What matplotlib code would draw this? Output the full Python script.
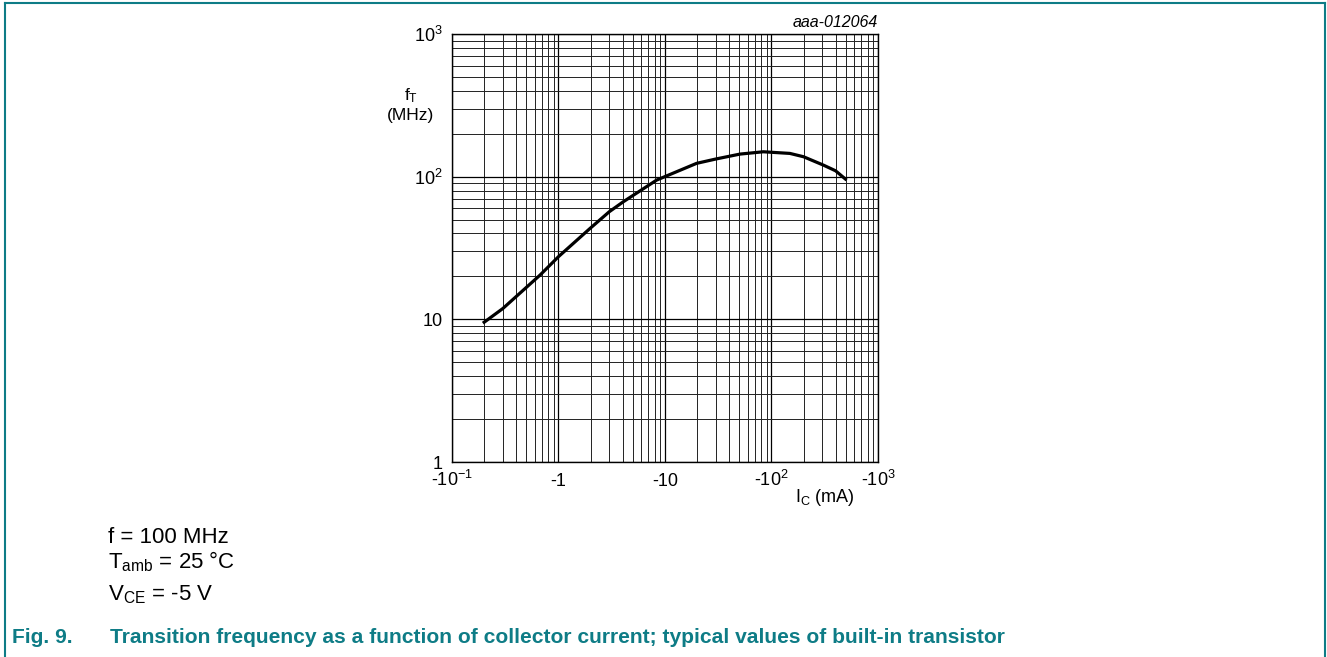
import matplotlib.pyplot as plt
import numpy as np

plt.rcParams['font.family'] = ['Liberation Sans', 'DejaVu Sans']
plt.rcParams['mathtext.fontset'] = 'custom'
plt.rcParams['mathtext.rm'] = 'Liberation Sans'
plt.rcParams['mathtext.it'] = 'Liberation Sans'

# collector current (mA, negative) and transition frequency (MHz)
ic = [-0.195, -0.3, -0.67, -1.0, -1.98, -3.0, -4.06, -8.36, -19.8, -30,
      -50.6, -83.8, -149, -200, -307, -400, -508]
ft = [9.4, 11.9, 20.4, 27.5, 43.4, 56.8, 66.7, 94.7, 124, 133,
      144, 149.5, 145.6, 138, 120.6, 110, 94.7]

x_ticks = [0.1, 1, 10, 100, 1000]
x_labels = ['-10$^{-1}$', '-1', '-10', '-10$^{2}$', '-10$^{3}$']
y_ticks = [1, 10, 100, 1000]
y_labels = ['1', '10', '10$^{2}$', '10$^{3}$']

teal = '#0e7c86'

fig = plt.figure(figsize=(13.27, 6.57), dpi=100)
ax = fig.add_axes([0.3406, 0.2968, 0.3210, 0.6514])

ax.set_xscale('log')
ax.set_yscale('log')
ax.set_xlim(0.1, 1000)
ax.set_ylim(1, 1000)

ax.grid(which='major', color='black', linewidth=0.9)
ax.grid(which='minor', color='#222222', linewidth=0.7)
ax.set_axisbelow(True)

ax.plot(-np.array(ic), ft, color='black', linewidth=2.3,
        solid_capstyle='butt', solid_joinstyle='round')

ax.set_xticks(x_ticks)
ax.set_xticklabels(x_labels, fontsize=13)
ax.set_yticks(y_ticks)
ax.set_yticklabels(y_labels, fontsize=13)
ax.tick_params(which='both', length=0)
ax.tick_params(axis='x', pad=17)
ax.tick_params(axis='y', pad=7)
plt.setp(ax.get_xticklabels(), va='baseline')
ax.minorticks_on()
ax.tick_params(which='minor', length=0, labelbottom=False, labelleft=False)
for s in ax.spines.values():
    s.set_linewidth(1.0)

fig.text(0.3095, 0.855, '$\\mathregular{f_T}$', fontsize=12.5, ha='center', va='center')
fig.text(0.3095, 0.824, '(MHz)', fontsize=12.5, ha='center', va='center')
fig.text(0.6616, 0.965, 'aaa-012064', fontsize=11.5, style='italic', ha='right', va='center')
fig.text(0.6217, 0.2435, '$\\mathregular{I_C}$ (mA)', fontsize=13, ha='center', va='center')

fig.text(0.0814, 0.1735, 'f = 100 MHz', fontsize=16, va='baseline')
fig.text(0.0814, 0.1355, '$\\mathregular{T_{amb}}$ = 25 °C', fontsize=16, va='baseline')
fig.text(0.0814, 0.0868, '$\\mathregular{V_{CE}}$ = -5 V', fontsize=16, va='baseline')

fig.text(0.009, 0.0213, 'Fig. 9.', fontsize=15.15, fontweight='bold', color=teal, va='baseline')
fig.text(0.083, 0.0213, 'Transition frequency as a function of collector current; typical values of built-in transistor',
         fontsize=15.15, fontweight='bold', color=teal, va='baseline')

# frame around the figure (left, top, right)
fig.add_artist(plt.Line2D([0.0035, 0.0035], [0.0, 0.9955], color=teal, linewidth=1.5, transform=fig.transFigure))
fig.add_artist(plt.Line2D([0.0035, 0.9985], [0.9955, 0.9955], color=teal, linewidth=1.5, transform=fig.transFigure))
fig.add_artist(plt.Line2D([0.9985, 0.9985], [0.0, 0.9955], color=teal, linewidth=1.5, transform=fig.transFigure))

fig.savefig('out.png', dpi=100)
